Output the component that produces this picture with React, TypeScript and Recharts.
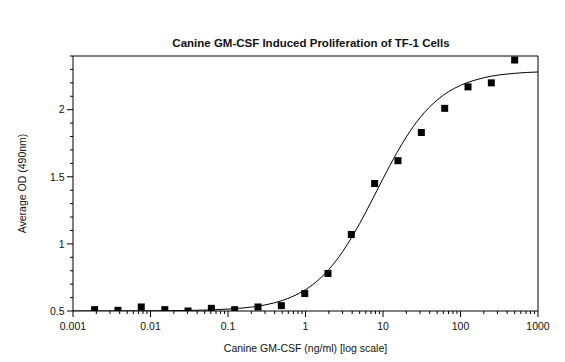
import React from "react";
import {
  ComposedChart,
  Scatter,
  Line,
  XAxis,
  YAxis,
  ReferenceLine,
} from "recharts";

// Serial dilution of canine GM-CSF (ng/ml)
const concentrations = [
  0.0019, 0.0038, 0.0076, 0.0153, 0.0305, 0.061, 0.122, 0.244, 0.488, 0.977,
  1.95, 3.9, 7.8, 15.6, 31.25, 62.5, 125, 250, 500,
];
// Mean absorbance at 490 nm for each concentration
const averageOD = [
  0.51, 0.505, 0.53, 0.51, 0.5, 0.52, 0.51, 0.53, 0.54, 0.63, 0.78, 1.07,
  1.45, 1.62, 1.83, 2.01, 2.17, 2.2, 2.37,
];

// Fitted dose-response curve, sampled along the concentration range
const fitConcentrations = [
  0.001, 0.01, 0.03, 0.1, 0.2, 0.3, 0.5, 0.7, 1, 1.5, 2, 3, 4, 5, 7, 10, 15,
  20, 30, 50, 70, 100, 200, 500, 1000,
];
const fitOD = [
  0.5, 0.501, 0.504, 0.514, 0.529, 0.545, 0.578, 0.611, 0.659, 0.736, 0.809,
  0.941, 1.054, 1.152, 1.311, 1.486, 1.676, 1.797, 1.94, 2.072, 2.134, 2.181,
  2.238, 2.271, 2.281,
];

// Axis ticks
const xMajorTicks = [0.001, 0.01, 0.1, 1, 10, 100, 1000];
const xMajorLabels = ["0.001", "0.01", "0.1", "1", "10", "100", "1000"];
const xMinorMultipliers = [2, 3, 4, 5, 6, 7, 8, 9];
const yTicks = [
  0.5, 0.6, 0.7, 0.8, 0.9, 1, 1.1, 1.2, 1.3, 1.4, 1.5, 1.6, 1.7, 1.8, 1.9, 2,
  2.1, 2.2, 2.3, 2.4,
];
const yMajorTicks = [0.5, 1, 1.5, 2];
const yMajorLabels = ["0.5", "1", "1.5", "2"];

const title = "Canine GM-CSF Induced Proliferation of TF-1 Cells";
const xTitle = "Canine GM-CSF (ng/ml) [log scale]";
const yTitle = "Average OD (490nm)";

const FONT = "'Liberation Sans', Arial, sans-serif";

const points = concentrations.map((x, i) => ({ x, y: averageOD[i] }));
const fit = fitConcentrations.map((x, i) => ({ x, y: fitOD[i] }));

const xMinorTicks: number[] = [];
xMajorTicks.slice(0, -1).forEach((d) =>
  xMinorMultipliers.forEach((m) => xMinorTicks.push(+(d * m).toPrecision(3)))
);
const xTicks = [...xMajorTicks, ...xMinorTicks].sort((a, b) => a - b);

const near = (a: number, b: number) => Math.abs(a - b) < 1e-9 * Math.max(1, Math.abs(b));

const XTick = (props: any) => {
  const { x, y, payload } = props;
  const idx = xMajorTicks.findIndex((t) => near(t, payload.value));
  const major = idx >= 0;
  return (
    <g>
      <line x1={x} x2={x} y1={y} y2={y + (major ? 6 : 3)} stroke="#000" strokeWidth={1} />
      {major && (
        <text x={x} y={y + 18.7} textAnchor="middle" fontSize={10.5} fontFamily={FONT} fill="#111">
          {xMajorLabels[idx]}
        </text>
      )}
    </g>
  );
};

const YTick = (props: any) => {
  const { x, y, payload } = props;
  const idx = yMajorTicks.findIndex((t) => near(t, payload.value));
  const major = idx >= 0;
  return (
    <g>
      <line x1={x - (major ? 6 : 3)} x2={x} y1={y} y2={y} stroke="#000" strokeWidth={1} />
      {major && (
        <text x={x - 8.5} y={y + 3.8} textAnchor="end" fontSize={10.5} fontFamily={FONT} fill="#111">
          {yMajorLabels[idx]}
        </text>
      )}
    </g>
  );
};

const SquareDot = (props: any) => {
  const { cx, cy } = props;
  if (cx == null || cy == null) return null;
  return <rect x={cx - 3.5} y={cy - 3.5} width={7} height={7} fill="#000" />;
};

export default function App() {
  return (
    <div style={{ position: "absolute", left: 0, top: 0, width: 565, height: 362, background: "#fff" }}>
      <div
        style={{
          position: "absolute",
          left: 0,
          width: 622,
          top: 36,
          textAlign: "center",
          fontFamily: FONT,
          fontWeight: "bold",
          fontSize: 11.5,
          lineHeight: "14px",
          color: "#111",
          whiteSpace: "nowrap",
        }}
      >
        {title}
      </div>
      <ComposedChart
        width={565}
        height={362}
        margin={{ top: 56, right: 27, bottom: 0, left: 13 }}
        style={{ position: "absolute", left: 0, top: 0 }}
      >
        <XAxis
          dataKey="x"
          type="number"
          scale="log"
          domain={[0.001, 1000]}
          allowDataOverflow
          ticks={xTicks}
          interval={0}
          tickSize={0}
          tickMargin={0}
          tick={<XTick />}
          axisLine={{ stroke: "#000", strokeWidth: 1 }}
          tickLine={false}
          height={51}
          label={{
            content: (p: any) => {
              const vb = p.viewBox || {};
              return (
                <text
                  x={vb.x + vb.width / 2}
                  y={vb.y + 40.7}
                  textAnchor="middle"
                  fontSize={10.5}
                  fontFamily={FONT}
                  fill="#111"
                >
                  {xTitle}
                </text>
              );
            },
          }}
        />
        <YAxis
          dataKey="y"
          type="number"
          domain={[0.5, 2.4]}
          allowDataOverflow
          ticks={yTicks}
          interval={0}
          tickSize={0}
          tickMargin={0}
          tick={<YTick />}
          axisLine={{ stroke: "#000", strokeWidth: 1 }}
          tickLine={false}
          width={60}
          label={{
            content: (p: any) => {
              const vb = p.viewBox || {};
              const cy = vb.y + vb.height / 2;
              return (
                <text
                  x={22}
                  y={cy}
                  transform={`rotate(-90 22 ${cy})`}
                  textAnchor="middle"
                  dominantBaseline="central"
                  fontSize={10.5}
                  fontFamily={FONT}
                  fill="#111"
                >
                  {yTitle}
                </text>
              );
            },
          }}
        />
        <ReferenceLine y={2.4} stroke="#000" strokeWidth={1} ifOverflow="extendDomain" />
        <ReferenceLine x={1000} stroke="#000" strokeWidth={1} ifOverflow="extendDomain" />
        <Line
          data={fit}
          dataKey="y"
          type="monotone"
          stroke="#000"
          strokeWidth={1}
          dot={false}
          activeDot={false}
          isAnimationActive={false}
        />
        <Scatter data={points} dataKey="y" shape={<SquareDot />} isAnimationActive={false} />
      </ComposedChart>
    </div>
  );
}
